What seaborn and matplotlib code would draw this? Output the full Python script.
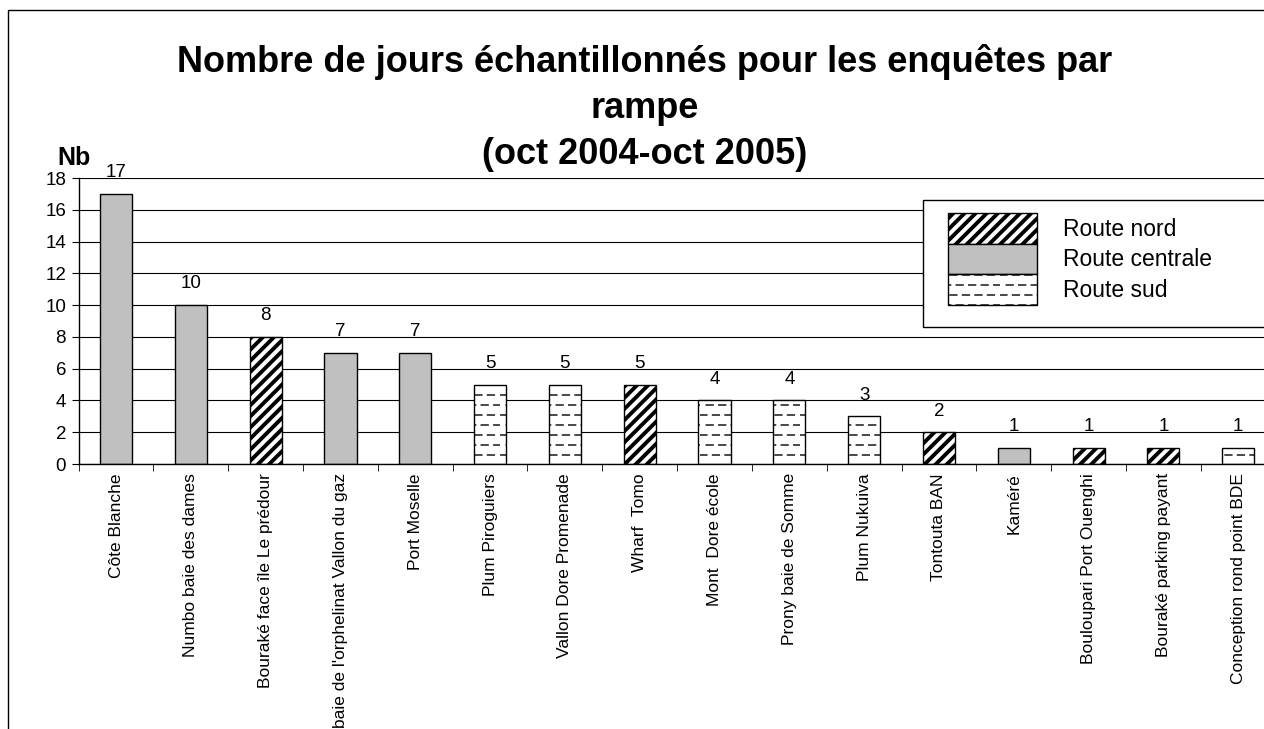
import matplotlib
matplotlib.use("Agg")
import matplotlib.pyplot as plt
import matplotlib.hatch as mhatch
import seaborn as sns
import numpy as np
import pandas as pd
from matplotlib.path import Path
from matplotlib.patches import Patch, Rectangle
from matplotlib.ticker import MultipleLocator

# data
rampes = ["Côte Blanche", "Numbo baie des dames", "Bouraké face île Le prédour",
          "baie de l'orphelinat Vallon du gaz", "Port Moselle", "Plum Piroguiers",
          "Vallon Dore Promenade", "Wharf  Tomo", "Mont  Dore école",
          "Prony baie de Somme", "Plum Nukuiva", "Tontouta BAN", "Kaméré",
          "Bouloupari Port Ouenghi", "Bouraké parking payant",
          "Conception rond point BDE"]
jours = [17, 10, 8, 7, 7, 5, 5, 5, 4, 4, 3, 2, 1, 1, 1, 1]
routes = ["Route centrale", "Route centrale", "Route nord", "Route centrale",
          "Route centrale", "Route sud", "Route sud", "Route nord", "Route sud",
          "Route sud", "Route sud", "Route nord", "Route centrale", "Route nord",
          "Route nord", "Route sud"]
route_order = ["Route nord", "Route centrale", "Route sud"]

df = pd.DataFrame({"rampe": rampes, "jours": jours, "route": routes})


# dashed horizontal hatch (replaces the plain '-' hatch)
class DashedHorizontalHatch(mhatch.HatchPatternBase):
    def __init__(self, hatch, density):
        self.num_rows = 10 * (hatch.count('-') + hatch.count('+'))
        self.num_dashes = 8
        self.num_vertices = self.num_rows * self.num_dashes * 2

    def set_vertices_and_codes(self, vertices, codes):
        rows = (np.arange(self.num_rows) + 0.5) / self.num_rows
        period = 1.0 / self.num_dashes
        k = 0
        for r, yy in enumerate(rows):
            off = 0.0 if r % 2 == 0 else period / 2
            for d in range(self.num_dashes):
                x0 = (d * period + off) % 1.0
                x1 = min(x0 + period * 0.55, 1.0)
                vertices[k] = (x0, yy)
                vertices[k + 1] = (x1, yy)
                codes[k] = Path.MOVETO
                codes[k + 1] = Path.LINETO
                k += 2


mhatch._hatch_types = [DashedHorizontalHatch if t is mhatch.HorizontalHatch else t
                       for t in mhatch._hatch_types]

sns.set_style("white")
plt.rcParams["font.family"] = ["Liberation Sans", "DejaVu Sans"]
for k in ["text.color", "axes.labelcolor", "xtick.color", "ytick.color"]:
    plt.rcParams[k] = "black"

fills = {"Route nord": "white", "Route centrale": "#c0c0c0", "Route sud": "white"}
hatches = {"Route nord": "///", "Route centrale": "", "Route sud": "-"}
hatch_lw = {"Route nord": 2.8, "Route centrale": 1.0, "Route sud": 1.0}

fig = plt.figure(figsize=(12.64, 7.29), dpi=100)
ax = fig.add_axes([0.0622, 0.3635, 0.947, 0.3923])

sns.barplot(data=df, x="rampe", y="jours", hue="route", hue_order=route_order,
            order=rampes, palette=fills, dodge=False, width=0.43,
            edgecolor="black", linewidth=1.0, legend=False, ax=ax)

for cont, r in zip(ax.containers, route_order):
    for bar in cont:
        if bar.get_height() != bar.get_height():
            continue
        bar.set_hatch(hatches[r])
        if hasattr(bar, "set_hatch_linewidth"):
            bar.set_hatch_linewidth(hatch_lw[r])

# value labels
for i, v in enumerate(jours):
    ax.text(i, v + 1.05, str(v), ha="center", va="baseline", fontsize=13.5)

ax.set_ylim(0, 18)
ax.set_xlim(-0.5, len(rampes) - 0.5)
ax.yaxis.set_major_locator(MultipleLocator(2))
ax.grid(axis="y", color="black", linewidth=0.8)
ax.set_axisbelow(True)
for s in ["top", "right"]:
    ax.spines[s].set_visible(False)
for s in ["left", "bottom"]:
    ax.spines[s].set_color("black")
    ax.spines[s].set_linewidth(1.0)

ax.set_xlabel("")
ax.set_ylabel("")
ax.tick_params(axis="y", which="major", direction="out", length=5, color="black",
               left=True, labelsize=13.5, pad=4)
ax.set_xticks(range(len(rampes)))
ax.set_xticklabels(rampes, rotation=90, fontsize=12.5, va="top")
ax.tick_params(axis="x", which="major", length=0, pad=6.5)
ax.set_xticks([i + 0.5 for i in range(-1, len(rampes))], minor=True)
ax.tick_params(axis="x", which="minor", direction="out", length=5, color="black",
               bottom=True)

fig.text(57 / 1264, 1 - 165 / 729, "Nb", fontsize=18, fontweight="bold",
         ha="left", va="baseline")

fig.suptitle("Nombre de jours échantillonnés pour les enquêtes par\nrampe\n(oct 2004-oct 2005)",
             x=0.51, y=0.94, fontsize=26, fontweight="bold", linespacing=1.42)

# legend box
fig.patches.append(Rectangle((923 / 1264, 1 - 327 / 729), 0.5, 127 / 729,
                             transform=fig.transFigure, facecolor="white",
                             edgecolor="black", linewidth=1.0, zorder=5))
handles = [Patch(facecolor=fills[r], edgecolor="black", hatch=hatches[r], label=r)
           for r in route_order]
leg = fig.legend(handles=handles, loc="upper left",
                 bbox_to_anchor=(948 / 1264, 1 - 213 / 729),
                 fontsize=16.5, frameon=False, handlelength=3.9,
                 handleheight=1.68, labelspacing=0, borderpad=0,
                 handletextpad=1.1, borderaxespad=0)
leg.set_zorder(6)
for h, r in zip(leg.legend_handles, route_order):
    if hasattr(h, "set_hatch_linewidth"):
        h.set_hatch_linewidth(hatch_lw[r])

# outer chart frame
fig.patches.append(Rectangle((8 / 1264, -0.1), 1.2, 1 - 10 / 729 + 0.1,
                             transform=fig.transFigure, fill=False,
                             edgecolor="black", linewidth=1.0))

fig.savefig("out.png", dpi=100)
